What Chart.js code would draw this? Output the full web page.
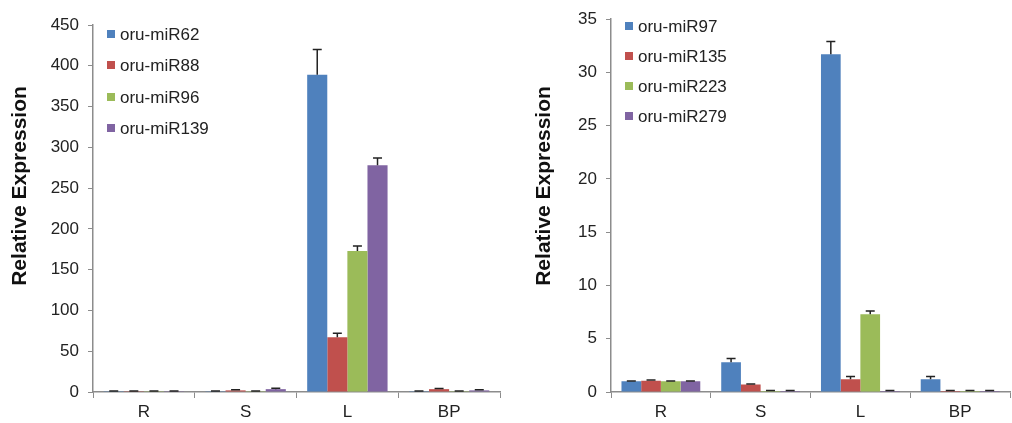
<!DOCTYPE html>
<html>
<head>
<meta charset="utf-8">
<script src="https://cdn.jsdelivr.net/npm/chart.js@4.4.1/dist/chart.umd.min.js"></script>
<style>
  body { margin: 0; background: #fff; font-family: Arial, "Liberation Sans", sans-serif; }
  .box { position: absolute; top: 0; height: 423px; }
  .legend { position: absolute; font-size: 17px; color: #222; }
  .legend div { position: absolute; white-space: nowrap; line-height: 20px; }
  .legend span { display: inline-block; width: 8px; height: 8px; margin-right: 5px; vertical-align: 2px; }
</style>
</head>
<body>
<div class="box" style="left:0;width:505px"><canvas id="leftChart" width="505" height="423"></canvas></div>
<div class="box" style="left:505px;width:507px"><canvas id="rightChart" width="507" height="423"></canvas></div>
<div class="legend" id="leftLegend" style="left:107px;top:25px"></div>
<div class="legend" id="rightLegend" style="left:625px;top:17px"></div>
<script>
const tissues = ["R", "S", "L", "BP"];
const colors = ["#4F81BD", "#C0504D", "#9BBB59", "#8064A2"];
const yTitle = "Relative Expression";

// left panel
const leftNames = ["oru-miR62", "oru-miR88", "oru-miR96", "oru-miR139"];
const miR62 = [1, 1, 389, 1];
const miR88 = [1, 2, 67, 3.5];
const miR96 = [1, 1, 173, 1];
const miR139 = [1, 3.5, 278, 2];
const miR62Err = [0.3, 0.3, 31, 0.3];
const miR88Err = [0.3, 0.8, 5, 0.8];
const miR96Err = [0.3, 0.3, 6, 0.3];
const miR139Err = [0.3, 1, 9, 0.8];

// right panel
const rightNames = ["oru-miR97", "oru-miR135", "oru-miR223", "oru-miR279"];
const miR97 = [1, 2.8, 31.7, 1.2];
const miR135 = [1.05, 0.7, 1.2, 0.1];
const miR223 = [1, 0.1, 7.3, 0.1];
const miR279 = [1, 0.1, 0.1, 0.1];
const miR97Err = [0.03, 0.35, 1.2, 0.25];
const miR135Err = [0.08, 0.05, 0.25, 0.03];
const miR223Err = [0.03, 0.03, 0.3, 0.03];
const miR279Err = [0.03, 0.03, 0.03, 0.03];

const errorBars = {
    id: "errorBars",
    afterDatasetsDraw(chart) {
        const ctx = chart.ctx;
        const yScale = chart.scales.y;
        ctx.save();
        ctx.strokeStyle = "#222";
        ctx.lineWidth = 1.5;
        chart.data.datasets.forEach((ds, i) => {
            const meta = chart.getDatasetMeta(i);
            meta.data.forEach((bar, j) => {
                const top = yScale.getPixelForValue(ds.data[j] + ds.errors[j]);
                ctx.beginPath();
                ctx.moveTo(bar.x, bar.y);
                ctx.lineTo(bar.x, top);
                ctx.moveTo(bar.x - 4.5, top);
                ctx.lineTo(bar.x + 4.5, top);
                ctx.stroke();
            });
        });
        ctx.restore();
    }
};

// y title drawn by hand so it can sit a bit above the middle, like the original
const sideTitle = {
    id: "sideTitle",
    afterDraw(chart, args, opts) {
        const ctx = chart.ctx;
        ctx.save();
        ctx.translate(opts.x, opts.y);
        ctx.rotate(-Math.PI / 2);
        ctx.font = "bold 21px Arial, 'Liberation Sans'";
        ctx.fillStyle = "#111";
        ctx.textAlign = "center";
        ctx.textBaseline = "middle";
        ctx.fillText(yTitle, 0, 0);
        ctx.restore();
    }
};

const makeChart = (canvasId, names, values, errors, max, step, yWidth, padTop, padRight, titleX) => {
    const datasets = names.map((name, i) => ({
        label: name,
        data: values[i],
        errors: errors[i],
        backgroundColor: colors[i],
        borderWidth: 0,
        categoryPercentage: 0.79,
        barPercentage: 1.0
    }));
    return new Chart(document.getElementById(canvasId), {
        type: "bar",
        data: { labels: tissues, datasets: datasets },
        options: {
            responsive: false,
            animation: false,
            layout: { padding: { top: padTop, right: padRight, left: 0, bottom: 0 } },
            plugins: {
                legend: { display: false },
                tooltip: { enabled: false },
                sideTitle: { x: titleX, y: 186 }
            },
            scales: {
                x: {
                    grid: { drawOnChartArea: false, drawTicks: true, tickLength: 6, color: "#8c8c8c", offset: true },
                    border: { color: "#8c8c8c", width: 1.5 },
                    ticks: { color: "#222", padding: 4, font: { size: 17, family: "Arial, 'Liberation Sans'" } },
                    afterFit: s => { s.height = 31; }
                },
                y: {
                    min: 0,
                    max: max,
                    ticks: { stepSize: step, color: "#222", padding: 9, font: { size: 17, family: "Arial, 'Liberation Sans'" } },
                    grid: { drawOnChartArea: false, drawTicks: true, tickLength: 5, color: "#8c8c8c" },
                    border: { color: "#8c8c8c", width: 1.5 },
                    afterFit: s => { s.width = yWidth; }
                }
            }
        },
        plugins: [errorBars, sideTitle]
    });
}

const buildLegend = (id, names, gap) => {
    const el = document.getElementById(id);
    names.forEach((name, i) => {
        const row = document.createElement("div");
        row.style.top = (i * gap) + "px";
        row.innerHTML = '<span style="background:' + colors[i] + '"></span>' + name;
        el.appendChild(row);
    });
}

makeChart("leftChart", leftNames, [miR62, miR88, miR96, miR139], [miR62Err, miR88Err, miR96Err, miR139Err], 450, 50, 93, 25, 5, 20);
makeChart("rightChart", rightNames, [miR97, miR135, miR223, miR279], [miR97Err, miR135Err, miR223Err, miR279Err], 35, 5, 106, 16, 2, 39);
buildLegend("leftLegend", leftNames, 31.3);
buildLegend("rightLegend", rightNames, 30);
</script>
</body>
</html>
